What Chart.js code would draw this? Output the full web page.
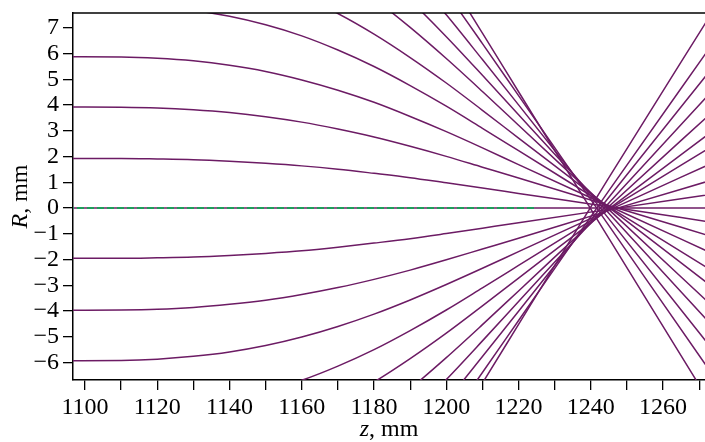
<!DOCTYPE html>
<html>
<head>
<meta charset="utf-8">
<script src="https://cdn.jsdelivr.net/npm/chart.js@4.4.1/dist/chart.umd.min.js"></script>
<style>
html, body { margin: 0; padding: 0; background: #fff; }
#wrap { width: 705px; height: 442px; }
</style>
</head>
<body>
<div id="wrap"><canvas id="myChart" width="705" height="442"></canvas></div>
<script>
var zGrid = [1095, 1110, 1120, 1130, 1140, 1150, 1160, 1170, 1180, 1190, 1200, 1210, 1220, 1245, 1275];

// rays starting above the axis, R in mm
var r2  = [1.93, 1.93, 1.91, 1.88, 1.82, 1.74, 1.64, 1.51, 1.35, 1.18, 0.98, 0.78, 0.57, 0.05, -0.58];
var r4  = [3.93, 3.92, 3.89, 3.82, 3.71, 3.55, 3.34, 3.07, 2.76, 2.40, 2.01, 1.59, 1.17, 0.10, -1.17];
var r6  = [5.88, 5.87, 5.82, 5.72, 5.55, 5.31, 4.98, 4.58, 4.11, 3.56, 2.97, 2.34, 1.69, 0.08, -1.85];
var r8  = [7.90, 7.88, 7.82, 7.68, 7.45, 7.12, 6.69, 6.14, 5.50, 4.76, 3.96, 3.10, 2.23, 0.05, -2.56];
var r10 = [9.73, 9.71, 9.63, 9.46, 9.18, 8.77, 8.23, 7.56, 6.76, 5.85, 4.86, 3.80, 2.72, 0.03, -3.21];
var r12 = [11.74, 11.71, 11.61, 11.41, 11.07, 10.57, 9.92, 9.10, 8.13, 7.02, 5.81, 4.53, 3.22, -0.06, -3.99];
var r14 = [13.58, 13.55, 13.43, 13.19, 12.79, 12.22, 11.45, 10.50, 9.36, 8.07, 6.66, 5.16, 3.63, -0.20, -4.79];
var r16 = [15.51, 15.47, 15.34, 15.06, 14.60, 13.93, 13.05, 11.95, 10.64, 9.14, 7.51, 5.77, 4.01, -0.42, -5.73];
var r18 = [17.50, 17.46, 17.30, 16.99, 16.46, 15.70, 14.69, 13.43, 11.94, 10.23, 8.37, 6.39, 4.37, -0.68, -6.74];
var r20 = [19.34, 19.29, 19.12, 18.76, 18.17, 17.31, 16.17, 14.75, 13.06, 11.14, 9.03, 6.80, 4.52, -1.18, -8.02];

// rays starting below the axis
var m2  = [-1.95, -1.95, -1.93, -1.90, -1.84, -1.76, -1.66, -1.52, -1.36, -1.19, -0.99, -0.78, -0.57, -0.05, 0.57];
var m4  = [-3.97, -3.96, -3.93, -3.86, -3.74, -3.58, -3.36, -3.09, -2.77, -2.41, -2.01, -1.59, -1.17, -0.10, 1.15];
var m6  = [-5.93, -5.92, -5.87, -5.76, -5.59, -5.34, -5.01, -4.60, -4.12, -3.57, -2.97, -2.34, -1.69, -0.08, 1.84];
var m8  = [-7.90, -7.88, -7.82, -7.68, -7.45, -7.12, -6.69, -6.14, -5.50, -4.76, -3.96, -3.10, -2.23, -0.05, 2.52];
var m10 = [-9.73, -9.71, -9.63, -9.46, -9.18, -8.77, -8.23, -7.56, -6.76, -5.85, -4.86, -3.80, -2.72, -0.03, 3.13];
var m12 = [-11.74, -11.71, -11.61, -11.41, -11.07, -10.57, -9.92, -9.10, -8.13, -7.02, -5.81, -4.53, -3.22, 0.06, 3.91];
var m14 = [-13.58, -13.55, -13.43, -13.19, -12.79, -12.22, -11.45, -10.50, -9.36, -8.07, -6.66, -5.16, -3.63, 0.20, 4.77];
var m16 = [-15.51, -15.47, -15.34, -15.06, -14.60, -13.93, -13.05, -11.95, -10.64, -9.14, -7.51, -5.77, -4.01, 0.42, 5.69];
var m18 = [-17.50, -17.46, -17.30, -16.99, -16.46, -15.70, -14.69, -13.43, -11.94, -10.23, -8.37, -6.39, -4.37, 0.68, 6.64];
var m20 = [-19.34, -19.29, -19.12, -18.76, -18.17, -17.31, -16.17, -14.75, -13.06, -11.14, -9.03, -6.80, -4.52, 1.18, 7.92];

// axial ray and the green dashed reference on the axis
var axisZ = [1095, 1275];
var axisR = [0, 0];
var dashZ = [1095, 1225];
var dashR = [0, 0];

var rayColor = "#6c1b64";
var serif = '"Liberation Serif", "DejaVu Serif", serif';

function pts(zs, rs) {
  return zs.map(function (z, i) { return {x: z, y: rs[i]}; });
}

var rays = [r2, r4, r6, r8, r10, r12, r14, r16, r18, r20,
            m2, m4, m6, m8, m10, m12, m14, m16, m18, m20];

var datasets = [{
  data: pts(dashZ, dashR),
  borderColor: "#1d9e5a",
  borderWidth: 2,
  borderDash: [7, 3],
  order: 0
}, {
  data: pts(axisZ, axisR),
  borderColor: rayColor,
  borderWidth: 1.5,
  order: 1
}];
rays.forEach(function (r) {
  datasets.push({
    data: pts(zGrid, r),
    borderColor: rayColor,
    borderWidth: 1.5,
    cubicInterpolationMode: "monotone",
    order: 2
  });
});

// frame top line + axis titles with italic variable
var framePlugin = {
  id: "frame",
  afterDraw: function (chart) {
    var ctx = chart.ctx, a = chart.chartArea;
    ctx.save();
    ctx.strokeStyle = "#000";
    ctx.lineWidth = 1.5;
    ctx.beginPath();
    ctx.moveTo(a.left, a.top);
    ctx.lineTo(a.right, a.top);
    ctx.stroke();

    ctx.fillStyle = "#000";
    ctx.textBaseline = "alphabetic";
    function mixed(parts, cx, cy) {
      var w = 0;
      parts.forEach(function (p) { ctx.font = p[1] + " 24px " + serif; w += ctx.measureText(p[0]).width; });
      var x = cx - w / 2;
      parts.forEach(function (p) {
        ctx.font = p[1] + " 24px " + serif;
        ctx.fillText(p[0], x, cy);
        x += ctx.measureText(p[0]).width;
      });
    }
    mixed([["z", "italic"], [", mm", "normal"]], (a.left + a.right) / 2, 436);
    ctx.translate(27, (a.top + a.bottom) / 2);
    ctx.rotate(-Math.PI / 2);
    mixed([["R", "italic"], [", mm", "normal"]], 0, 0);
    ctx.restore();
  }
};

new Chart("myChart", {
  type: "line",
  data: { datasets: datasets },
  options: {
    responsive: false,
    animation: false,
    layout: { padding: { top: 13, left: 0, right: 0, bottom: 0 } },
    elements: { point: { radius: 0 }, line: { fill: false } },
    plugins: { legend: { display: false }, tooltip: { enabled: false } },
    font: { family: serif },
    scales: {
      x: {
        type: "linear",
        min: 1096.68,
        max: 1271.6,
        afterFit: function (s) { s.height = 62; s.paddingLeft = 0; s.paddingRight = 0; },
        border: { display: true, color: "#000", width: 1.5 },
        grid: { drawOnChartArea: false, tickLength: 10, color: "#000", lineWidth: 1.3 },
        ticks: {
          stepSize: 10, includeBounds: false, autoSkip: false, maxRotation: 0, padding: 3,
          color: "#000", font: { family: serif, size: 24 },
          callback: function (v) { return v % 20 === 0 ? String(v) : ""; }
        }
      },
      y: {
        min: -6.68,
        max: 7.58,
        afterFit: function (s) { s.width = 73; s.paddingTop = 0; s.paddingBottom = 0; },
        border: { display: true, color: "#000", width: 1.5 },
        grid: { drawOnChartArea: false, tickLength: 10, color: "#000", lineWidth: 1.3 },
        ticks: {
          stepSize: 1, includeBounds: false, autoSkip: false, padding: 4,
          color: "#000", font: { family: serif, size: 24 },
          callback: function (v) { return v < 0 ? "\u2212" + Math.abs(v) : String(v); }
        }
      }
    }
  },
  plugins: [framePlugin]
});
</script>
</body>
</html>
